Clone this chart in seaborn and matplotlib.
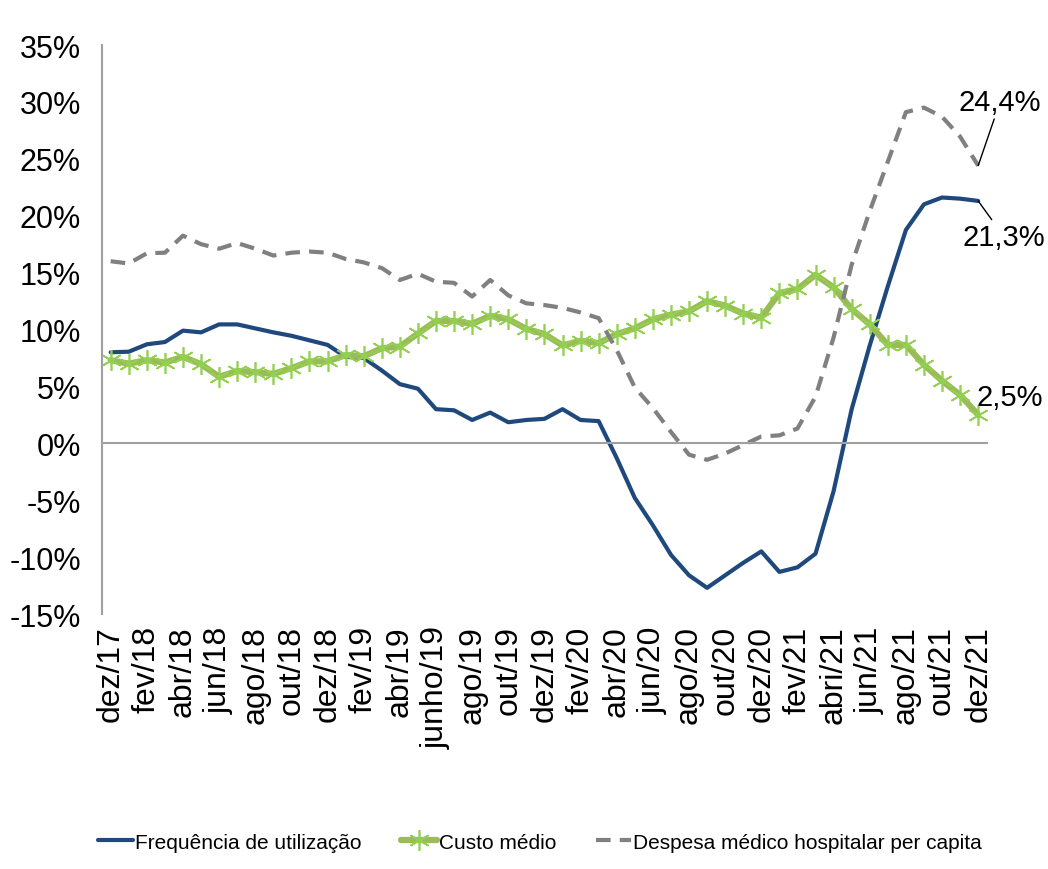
import matplotlib

matplotlib.use("Agg")
import matplotlib.pyplot as plt
import numpy as np
import seaborn as sns

# Monthly series, dez/17 .. dez/21 (variation in %)
frequencia = [
    8.0, 8.05, 8.7, 8.9, 9.9, 9.75, 10.45, 10.45, 10.1, 9.75, 9.45, 9.05, 8.65,
    7.6, 7.5, 6.4, 5.2, 4.8, 3.0, 2.9, 2.05, 2.7, 1.85, 2.05, 2.15, 3.0, 2.05,
    1.95, -1.3, -4.8, -7.2, -9.8, -11.6, -12.7, -11.6, -10.5, -9.5, -11.3, -10.9,
    -9.7, -4.2, 3.0, 8.6, 13.8, 18.75, 21.0, 21.6, 21.5, 21.3,
]
custo_medio = [
    7.3, 7.0, 7.3, 7.1, 7.6, 6.95, 5.85, 6.35, 6.25, 6.1, 6.6, 7.2, 7.2, 7.75,
    7.65, 8.35, 8.5, 9.65, 10.75, 10.75, 10.5, 11.2, 10.9, 10.05, 9.6, 8.6, 9.0,
    8.8, 9.6, 10.1, 10.9, 11.3, 11.6, 12.5, 12.1, 11.4, 11.05, 13.2, 13.55, 14.8,
    13.7, 11.8, 10.45, 8.65, 8.65, 6.9, 5.5, 4.25, 2.5,
]
despesa = [
    16.0, 15.8, 16.7, 16.75, 18.25, 17.5, 17.1, 17.6, 17.1, 16.5, 16.75, 16.85,
    16.75, 16.2, 15.9, 15.4, 14.35, 14.9, 14.2, 14.1, 12.9, 14.35, 13.0, 12.3,
    12.15, 11.9, 11.5, 11.0, 8.2, 4.9, 3.1, 1.0, -1.0, -1.45, -0.9, -0.15, 0.6,
    0.7, 1.3, 4.1, 9.3, 15.7, 20.4, 24.75, 29.1, 29.5, 28.7, 26.95, 24.4,
]
tick_labels = [
    "dez/17", "fev/18", "abr/18", "jun/18", "ago/18", "out/18", "dez/18",
    "fev/19", "abr/19", "junho/19", "ago/19", "out/19", "dez/19", "fev/20",
    "abr/20", "jun/20", "ago/20", "out/20", "dez/20", "fev/21", "abri/21",
    "jun/21", "ago/21", "out/21", "dez/21",
]
y_ticks = [35, 30, 25, 20, 15, 10, 5, 0, -5, -10, -15]
end_labels = ["24,4%", "21,3%", "2,5%"]

BLUE = "#1F497D"
GREEN = "#9BBB59"
GREEN_MARK = "#92D050"
GREY = "#808080"
AXIS_GREY = "#A0A0A0"

sns.set_style("white")
plt.rcParams["font.family"] = ["Liberation Sans", "DejaVu Sans"]
plt.rcParams["text.color"] = "black"

months = np.arange(len(frequencia))

fig = plt.figure(figsize=(10.48, 8.7), dpi=100)
ax = fig.add_axes([0.097, 0.2931, 0.845, 0.654])

# spine position first: it resets the tick objects
for side in ("top", "right"):
    ax.spines[side].set_visible(False)
for side in ("left", "bottom"):
    ax.spines[side].set_color(AXIS_GREY)
    ax.spines[side].set_linewidth(1.5)
ax.spines["bottom"].set_position(("data", 0))

sns.lineplot(x=months, y=frequencia, color=BLUE, lw=3, ax=ax,
             label="Frequência de utilização")
sns.lineplot(x=months, y=custo_medio, color=GREEN, lw=4.5, ax=ax,
             marker=(6, 2, 0), markersize=15, markeredgecolor=GREEN_MARK,
             markerfacecolor=GREEN_MARK, markeredgewidth=1.2,
             label="Custo médio")
sns.lineplot(x=months, y=despesa, color=GREY, lw=3, ax=ax,
             linestyle=(0, (3.5, 2.2)),
             label="Despesa médico hospitalar per capita")

handles, labels = ax.get_legend_handles_labels()
ax.get_legend().remove()

ax.set_xlim(-0.5, len(months) - 0.5)
ax.set_ylim(-15, 35)

ax.set_yticks(y_ticks)
ax.set_yticklabels([f"{v}%" for v in y_ticks])
ax.tick_params(axis="y", direction="out", length=6, width=1.2,
               color=AXIS_GREY, pad=9, labelsize=22, labelcolor="black")

ax.tick_params(axis="x", which="major", length=0, pad=131, labelrotation=90,
               labelsize=23, labelcolor="black")
ax.set_xticks(months[::2])
ax.set_xticklabels(tick_labels)
ax.set_xticks(np.arange(-0.5, len(months)), minor=True)
ax.tick_params(axis="x", which="minor", direction="out", length=8,
               width=1.2, color=AXIS_GREY)
ax.set(xlabel="", ylabel="")

last = months[-1]
ax.annotate(end_labels[0], xy=(last, despesa[-1]), xytext=(22, 64),
            textcoords="offset pixels", ha="center", va="center", fontsize=21,
            arrowprops=dict(arrowstyle="-", color="black", lw=1, shrinkA=0, shrinkB=0))
ax.annotate(end_labels[1], xy=(last, frequencia[-1]), xytext=(26, -36),
            textcoords="offset pixels", ha="center", va="center", fontsize=21,
            arrowprops=dict(arrowstyle="-", color="black", lw=1, shrinkA=0, shrinkB=0))
ax.annotate(end_labels[2], xy=(last, custo_medio[-1]), xytext=(32, 18),
            textcoords="offset pixels", ha="center", va="center", fontsize=21)

fig.legend(handles, labels, loc="center", bbox_to_anchor=(0.515, 0.031), ncol=3,
           frameon=False, fontsize=15, handlelength=1.7, handletextpad=0.1,
           columnspacing=1.9)

fig.savefig("out.png", dpi=100, facecolor="white")
